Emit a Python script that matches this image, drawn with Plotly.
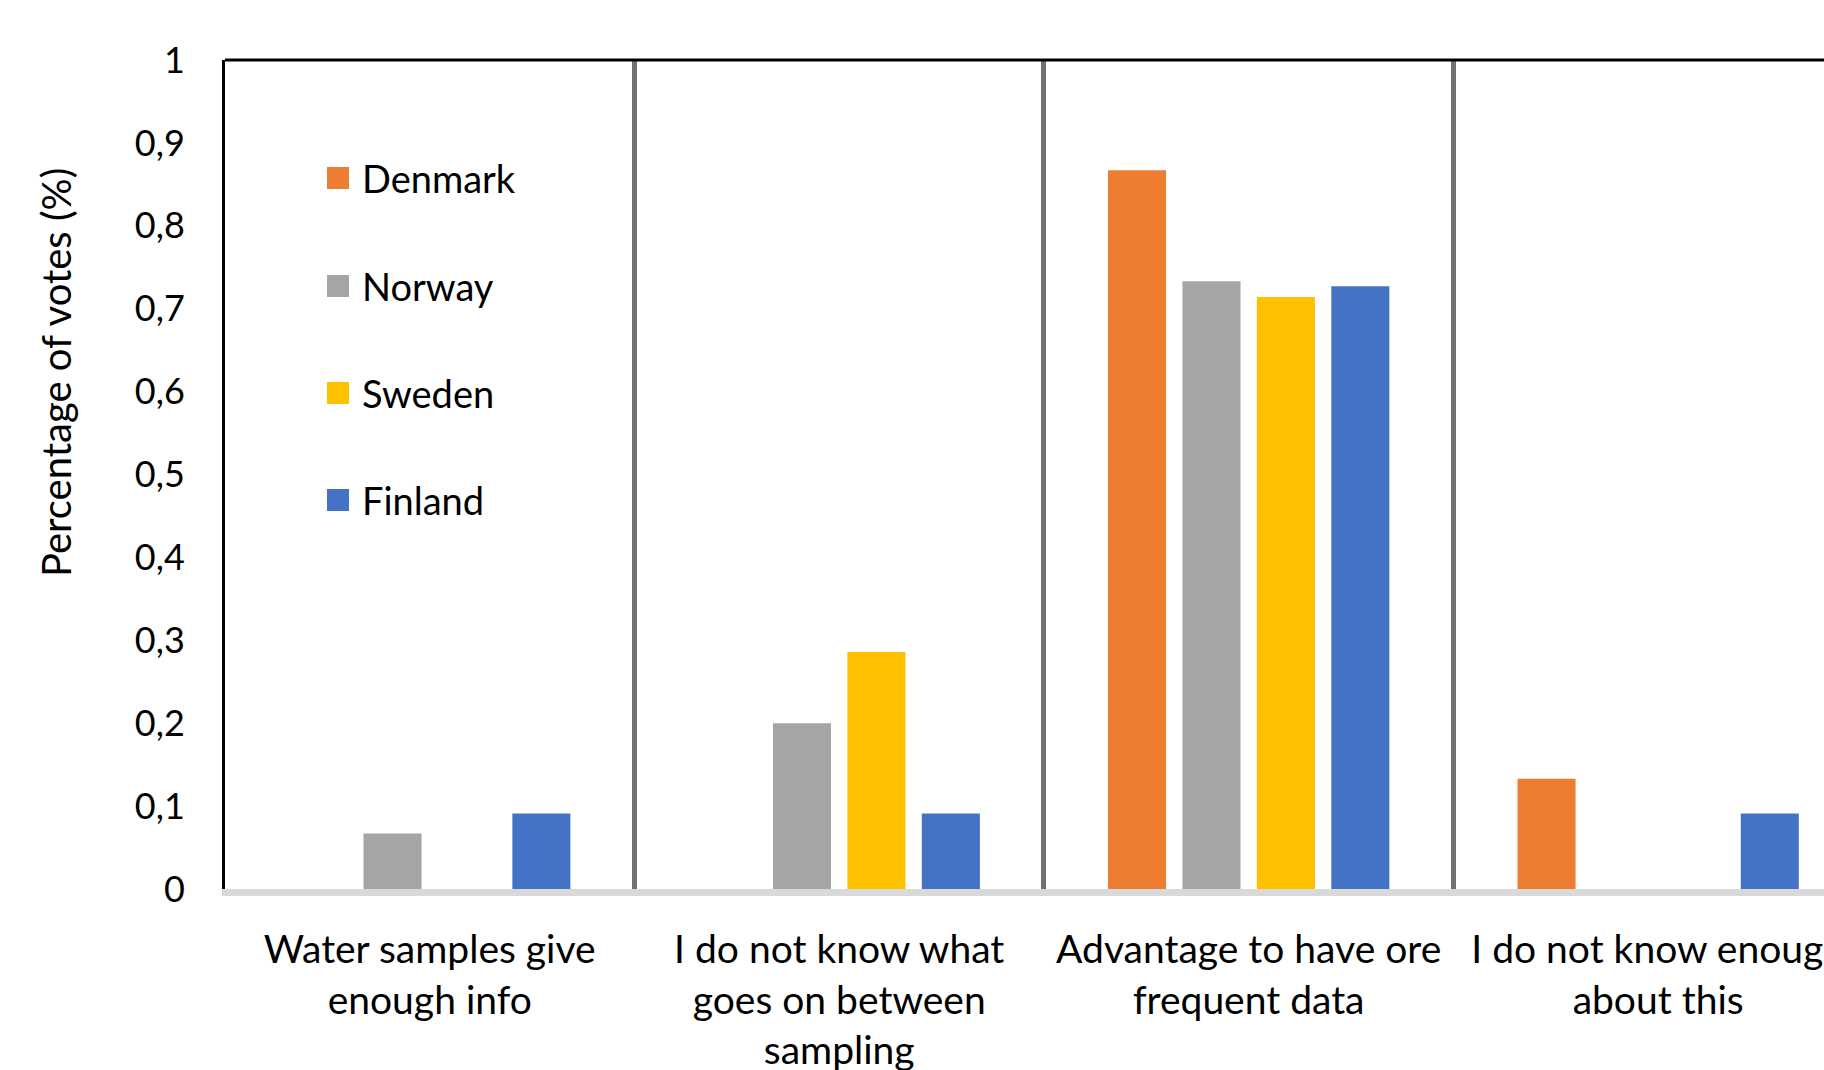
import plotly.graph_objects as go

# Survey answers (share of votes per country)
categories = [
    "Water samples give<br>enough info",
    "I do not know what<br>goes on between<br>sampling",
    "Advantage to have ore<br>frequent data",
    "I do not know enough<br>about this",
]
countries = ["Denmark", "Norway", "Sweden", "Finland"]
denmark = [0.0, 0.0, 0.867, 0.133]
norway = [0.067, 0.2, 0.733, 0.0]
sweden = [0.0, 0.286, 0.714, 0.0]
finland = [0.091, 0.091, 0.727, 0.091]
colors = ["#ED7D31", "#A5A5A5", "#FFC000", "#4472C4"]

y_tickvals = [0, 0.1, 0.2, 0.3, 0.4, 0.5, 0.6, 0.7, 0.8, 0.9, 1]
y_ticktext = ["0", "0,1", "0,2", "0,3", "0,4", "0,5", "0,6", "0,7", "0,8", "0,9", "1"]

FONT = "Lato"

W, H = 1824, 1070
M_L, M_R, M_T, M_B = 225, 0, 60, 181

fig = go.Figure()
for name, vals, col in zip(countries, [denmark, norway, sweden, finland], colors):
    fig.add_trace(go.Bar(name=name, x=categories, y=vals, marker_color=col,
                         marker_line_width=0, showlegend=False))

fig.update_layout(
    template="none",
    width=W, height=H,
    margin=dict(l=M_L, r=M_R, t=M_T, b=M_B, pad=0, autoexpand=False),
    paper_bgcolor="white", plot_bgcolor="white",
    barmode="group", bargap=0.273, bargroupgap=0.22,
    font=dict(family=FONT, size=36, color="#000000"),
    showlegend=False,
)

fig.update_xaxes(
    type="category", range=[-0.5, 3.405], tickson="boundaries", automargin=False,
    showgrid=True, gridcolor="#767171", gridwidth=5,
    showline=True, linecolor="#D9D9D9", linewidth=7,
    ticks="", ticklabelstandoff=20,
    tickfont=dict(family=FONT, size=39, color="#000000"),
)
fig.update_yaxes(
    range=[0, 1], tickvals=y_tickvals, ticktext=y_ticktext, automargin=False,
    showgrid=False, zeroline=False,
    showline=True, linecolor="#000000", linewidth=3,
    ticks="", ticklabelstandoff=30,
    tickfont=dict(family=FONT, size=36, color="#000000"),
)

# Top border of the plot area
fig.add_shape(type="line", xref="paper", yref="paper", x0=0, x1=1, y0=1, y1=1,
              line=dict(color="#000000", width=3), layer="above")

pw = W - M_L - M_R
ph = H - M_T - M_B

# Axis title
fig.add_annotation(text="Percentage of votes (%)", textangle=-90,
                   xref="paper", yref="paper",
                   x=(56 - M_L) / pw, y=(H - M_B - 373) / ph,
                   xanchor="center", yanchor="middle", showarrow=False,
                   font=dict(family=FONT, size=40, color="#000000"))

# Legend drawn inside the first panel
row_y = [178, 286, 393, 500]
for name, col, py in zip(countries, colors, row_y):
    fig.add_shape(type="rect", xref="paper", yref="paper",
                  x0=(327 - M_L) / pw, x1=(349 - M_L) / pw,
                  y0=(H - M_B - (py + 11)) / ph, y1=(H - M_B - (py - 11)) / ph,
                  fillcolor=col, line_width=0)
    fig.add_annotation(text=name, xref="paper", yref="paper",
                       x=(360 - M_L) / pw, y=(H - M_B - py) / ph,
                       xanchor="left", yanchor="middle", showarrow=False,
                       font=dict(family=FONT, size=38, color="#000000"))

fig.write_html("out.html")
